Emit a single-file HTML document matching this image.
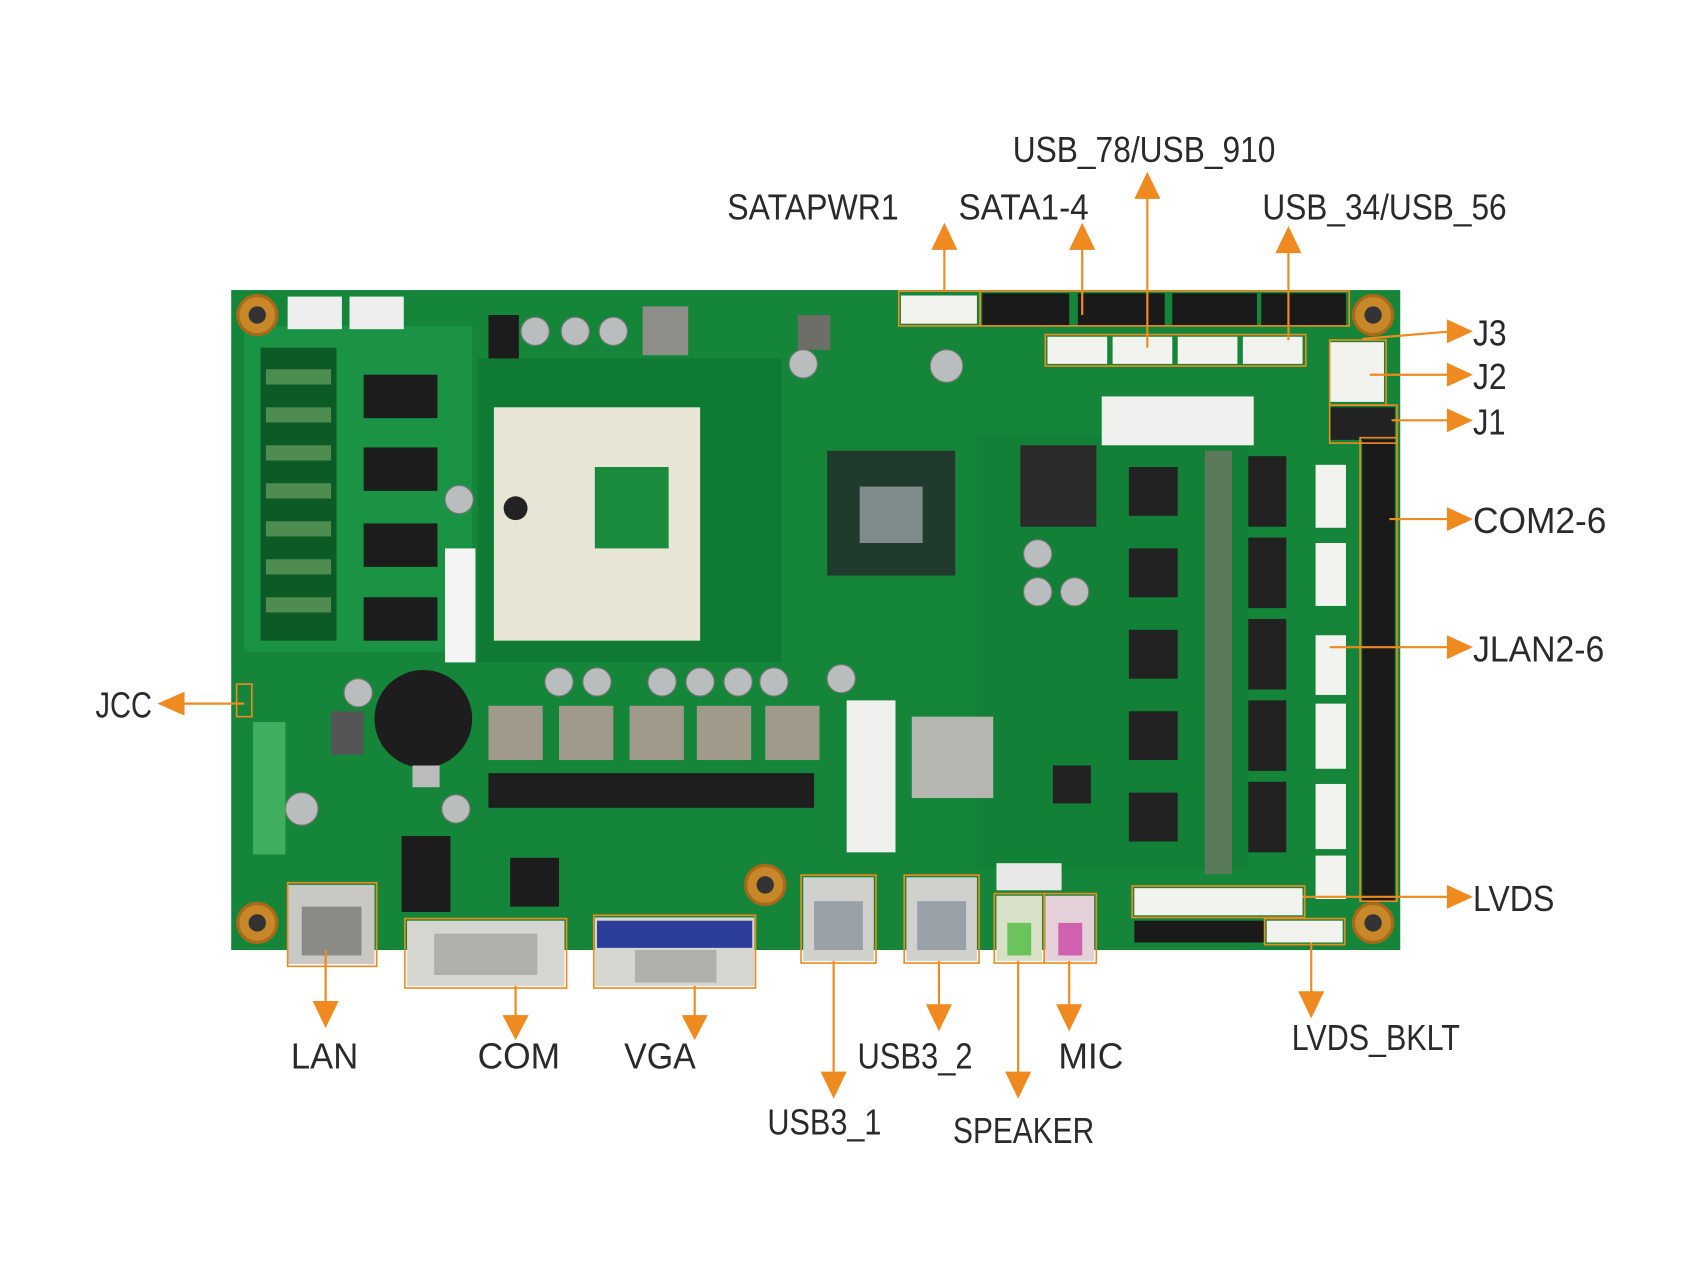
<!DOCTYPE html>
<html><head><meta charset="utf-8"><style>
html,body{margin:0;padding:0;background:#fff;}
svg{display:block;}
text{font-family:"Liberation Sans",sans-serif;font-size:33px;fill:#2a2a2a;}
</style></head><body>
<svg width="1702" height="1277" viewBox="0 0 1568 1176" xmlns="http://www.w3.org/2000/svg">
<rect x="0" y="0" width="1568" height="1176" fill="#fff"/>
<!-- board -->
<rect x="213" y="267" width="1077" height="608" fill="#15853a"/>
<rect x="225" y="300" width="210" height="300" fill="#1a9444"/>
<rect x="440" y="330" width="280" height="280" fill="#0f7a33"/>
<rect x="900" y="400" width="250" height="400" fill="#128036"/>
<!-- mounting holes -->
<g fill="#c8882a" stroke="#a86a18" stroke-width="3">
<circle cx="237" cy="290" r="18"/><circle cx="1265" cy="290" r="18"/>
<circle cx="237" cy="850" r="18"/><circle cx="1265" cy="850" r="18"/>
<circle cx="705" cy="815" r="18"/>
</g>
<g fill="#333"><circle cx="237" cy="290" r="8"/><circle cx="1265" cy="290" r="8"/><circle cx="237" cy="850" r="8"/><circle cx="1265" cy="850" r="8"/><circle cx="705" cy="815" r="8"/></g>
<!-- small white headers top-left -->
<rect x="265" y="273" width="50" height="30" fill="#eee"/><rect x="322" y="273" width="50" height="30" fill="#eee"/>
<!-- RAM-ish chips -->
<g fill="#1c1c1c">
<rect x="335" y="345" width="68" height="40"/><rect x="335" y="412" width="68" height="40"/>
<rect x="335" y="482" width="68" height="40"/><rect x="335" y="550" width="68" height="40"/>
<rect x="450" y="290" width="28" height="40"/>
</g>
<g fill="#0c5a25"><rect x="240" y="320" width="70" height="270"/></g>
<g fill="#8fbf7c" opacity="0.5">
<rect x="245" y="340" width="60" height="14"/><rect x="245" y="375" width="60" height="14"/><rect x="245" y="410" width="60" height="14"/><rect x="245" y="445" width="60" height="14"/><rect x="245" y="480" width="60" height="14"/><rect x="245" y="515" width="60" height="14"/><rect x="245" y="550" width="60" height="14"/>
</g>
<!-- CPU socket -->
<rect x="455" y="375" width="190" height="215" fill="#e8e4d6"/>
<rect x="548" y="430" width="68" height="75" fill="#1a8a3c"/>
<circle cx="475" cy="468" r="11" fill="#222"/>
<rect x="410" y="505" width="28" height="105" fill="#f4f4f4"/>
<!-- chipset -->
<rect x="762" y="415" width="118" height="115" fill="#213a2e"/>
<rect x="792" y="448" width="58" height="52" fill="#7d8b8b"/>
<rect x="940" y="410" width="70" height="75" fill="#2a2a2a"/>
<!-- caps -->
<g fill="#b9bdbd" stroke="#777" stroke-width="1">
<circle cx="493" cy="305" r="13"/><circle cx="530" cy="305" r="13"/><circle cx="565" cy="305" r="13"/>
<circle cx="740" cy="335" r="13"/><circle cx="872" cy="337" r="15"/><circle cx="423" cy="460" r="13"/>
<circle cx="956" cy="510" r="13"/><circle cx="956" cy="545" r="13"/><circle cx="990" cy="545" r="13"/>
<circle cx="515" cy="628" r="13"/><circle cx="550" cy="628" r="13"/><circle cx="610" cy="628" r="13"/><circle cx="645" cy="628" r="13"/><circle cx="680" cy="628" r="13"/><circle cx="713" cy="628" r="13"/><circle cx="775" cy="625" r="13"/>
<circle cx="330" cy="638" r="13"/><circle cx="278" cy="745" r="15"/><circle cx="420" cy="745" r="13"/>
</g>
<rect x="592" y="282" width="42" height="45" fill="#8e8e88"/><rect x="735" y="290" width="30" height="32" fill="#6e6e68"/>
<!-- inductors -->
<g fill="#a09a8a">
<rect x="450" y="650" width="50" height="50"/><rect x="515" y="650" width="50" height="50"/><rect x="580" y="650" width="50" height="50"/><rect x="642" y="650" width="50" height="50"/><rect x="705" y="650" width="50" height="50"/>
</g>
<g fill="#1e1e1e">
<rect x="450" y="712" width="300" height="32"/>
</g>
<!-- battery -->
<circle cx="390" cy="662" r="45" fill="#1d1d1d"/>
<rect x="380" y="705" width="25" height="20" fill="#bbb"/>
<!-- terminal block -->
<rect x="233" y="665" width="30" height="122" fill="#3fae5e"/>
<rect x="305" y="655" width="30" height="40" fill="#555"/>
<rect x="370" y="770" width="45" height="70" fill="#1c1c1c"/>
<rect x="470" y="790" width="45" height="45" fill="#1c1c1c"/>
<!-- mini pcie and sim -->
<rect x="780" y="645" width="45" height="140" fill="#f0f0ee"/>
<rect x="840" y="660" width="75" height="75" fill="#b6b6b0"/>
<rect x="1015" y="365" width="140" height="45" fill="#f0f0ee"/>
<!-- right chips -->
<g fill="#222">
<rect x="1040" y="430" width="45" height="45"/><rect x="1040" y="505" width="45" height="45"/><rect x="1040" y="580" width="45" height="45"/><rect x="1040" y="655" width="45" height="45"/><rect x="1040" y="730" width="45" height="45"/>
<rect x="1150" y="420" width="35" height="65"/><rect x="1150" y="495" width="35" height="65"/><rect x="1150" y="570" width="35" height="65"/><rect x="1150" y="645" width="35" height="65"/><rect x="1150" y="720" width="35" height="65"/>
<rect x="970" y="705" width="35" height="35"/>
</g>
<rect x="1110" y="415" width="25" height="390" fill="#5a7a5a"/>
<!-- right black header -->
<rect x="1255" y="405" width="30" height="425" fill="#1a1a1a"/>
<g fill="#f2f2ee">
<rect x="1212" y="428" width="28" height="58"/><rect x="1212" y="500" width="28" height="58"/><rect x="1212" y="585" width="28" height="55"/><rect x="1212" y="648" width="28" height="60"/><rect x="1212" y="722" width="28" height="60"/><rect x="1212" y="788" width="28" height="40"/>
<rect x="1225" y="315" width="50" height="55"/>
</g>
<rect x="1225" y="375" width="60" height="30" fill="#222"/>
<!-- top SATA -->
<g fill="#1a1a1a">
<rect x="905" y="270" width="80" height="30"/><rect x="993" y="270" width="80" height="30"/><rect x="1080" y="270" width="78" height="30"/><rect x="1162" y="270" width="78" height="30"/>
</g>
<rect x="830" y="272" width="70" height="26" fill="#f2f2ee"/>
<g fill="#f2f2ee">
<rect x="965" y="310" width="55" height="25"/><rect x="1025" y="310" width="55" height="25"/><rect x="1085" y="310" width="55" height="25"/><rect x="1145" y="310" width="55" height="25"/>
</g>
<!-- bottom -->
<rect x="1045" y="818" width="155" height="25" fill="#f2f2ee"/>
<rect x="1045" y="848" width="120" height="20" fill="#1a1a1a"/>
<rect x="1167" y="848" width="70" height="20" fill="#f2f2ee"/>
<rect x="918" y="795" width="60" height="25" fill="#e8e8e8"/>
<!-- IO -->
<rect x="265" y="815" width="80" height="73" fill="#c8c8c4"/><rect x="278" y="835" width="55" height="45" fill="#8a8a86"/>
<rect x="375" y="848" width="145" height="60" fill="#d6d6d0"/><rect x="400" y="860" width="95" height="38" fill="#b0b0aa"/>
<rect x="548" y="845" width="147" height="63" fill="#d6d6d0"/><rect x="550" y="848" width="143" height="25" fill="#2c3d9a"/><rect x="585" y="875" width="75" height="30" fill="#b0b0aa"/>
<rect x="740" y="808" width="65" height="77" fill="#d0d0cc"/><rect x="750" y="830" width="45" height="45" fill="#9aa0a8"/>
<rect x="835" y="808" width="65" height="77" fill="#d0d0cc"/><rect x="845" y="830" width="45" height="45" fill="#9aa0a8"/>
<rect x="918" y="825" width="42" height="60" fill="#d8e0c8"/><rect x="928" y="850" width="22" height="30" fill="#6ac45a"/>
<rect x="963" y="825" width="45" height="60" fill="#e4d0d8"/><rect x="975" y="850" width="22" height="30" fill="#d060b0"/>
<!-- orange outline boxes -->
<g fill="none" stroke="#ee8a20" stroke-width="1.5">
<rect x="828" y="268" width="75" height="32"/><rect x="903" y="268" width="340" height="32"/>
<rect x="963" y="308" width="240" height="29"/><rect x="1225" y="313" width="52" height="60"/>
<rect x="1225" y="373" width="62" height="35"/><rect x="1253" y="403" width="34" height="427"/>
<rect x="265" y="813" width="82" height="77"/><rect x="373" y="846" width="149" height="64"/><rect x="547" y="843" width="149" height="67"/>
<rect x="738" y="806" width="69" height="81"/><rect x="833" y="806" width="69" height="81"/>
<rect x="916" y="823" width="46" height="64"/><rect x="962" y="823" width="48" height="64"/>
<rect x="1165" y="846" width="74" height="24"/><rect x="1043" y="816" width="159" height="29"/>
<rect x="218" y="630" width="14" height="30"/>
</g>
<!-- arrows -->
<g stroke="#ee8a20" stroke-width="2" fill="none">
<line x1="870" y1="268" x2="870" y2="225"/><line x1="997" y1="290" x2="997" y2="225"/>
<line x1="1057" y1="320" x2="1057" y2="178"/><line x1="1187" y1="313" x2="1187" y2="228"/>
<line x1="1255" y1="312" x2="1338" y2="305"/><line x1="1262" y1="345" x2="1338" y2="345"/>
<line x1="1282" y1="387" x2="1338" y2="387"/><line x1="1280" y1="478" x2="1338" y2="478"/>
<line x1="1225" y1="596" x2="1338" y2="596"/><line x1="1200" y1="826" x2="1338" y2="826"/>
<line x1="225" y1="648" x2="165" y2="648"/>
<line x1="300" y1="875" x2="300" y2="927"/><line x1="475" y1="908" x2="475" y2="940"/>
<line x1="640" y1="908" x2="640" y2="940"/><line x1="768" y1="885" x2="768" y2="992"/>
<line x1="865" y1="885" x2="865" y2="930"/><line x1="938" y1="885" x2="938" y2="992"/>
<line x1="985" y1="885" x2="985" y2="930"/><line x1="1208" y1="868" x2="1208" y2="918"/>
</g>
<g fill="#ee8a20">
<polygon points="858,230 882,230 870,205"/><polygon points="985,230 1009,230 997,205"/>
<polygon points="1045,183 1069,183 1057,158"/><polygon points="1175,233 1199,233 1187,208"/>
<polygon points="1333,294 1333,316 1357,305"/><polygon points="1333,334 1333,356 1357,345"/>
<polygon points="1333,376 1333,398 1357,387"/><polygon points="1333,467 1333,489 1357,478"/>
<polygon points="1333,585 1333,607 1357,596"/><polygon points="1333,815 1333,837 1357,826"/>
<polygon points="170,637 170,659 145,648"/>
<polygon points="288,922 312,922 300,947"/><polygon points="463,935 487,935 475,958"/>
<polygon points="628,935 652,935 640,958"/><polygon points="756,987 780,987 768,1012"/>
<polygon points="853,925 877,925 865,950"/><polygon points="926,987 950,987 938,1012"/>
<polygon points="973,925 997,925 985,950"/><polygon points="1196,913 1220,913 1208,938"/>
</g>
<!-- labels -->
<text x="670" y="202" textLength="158" lengthAdjust="spacingAndGlyphs">SATAPWR1</text>
<text x="883" y="202" textLength="120" lengthAdjust="spacingAndGlyphs">SATA1-4</text>
<text x="933" y="149" textLength="242" lengthAdjust="spacingAndGlyphs">USB_78/USB_910</text>
<text x="1163" y="202" textLength="225" lengthAdjust="spacingAndGlyphs">USB_34/USB_56</text>
<text x="1357" y="318" textLength="31" lengthAdjust="spacingAndGlyphs">J3</text>
<text x="1357" y="358" textLength="31" lengthAdjust="spacingAndGlyphs">J2</text>
<text x="1357" y="400" textLength="30" lengthAdjust="spacingAndGlyphs">J1</text>
<text x="1357" y="491" textLength="123" lengthAdjust="spacingAndGlyphs">COM2-6</text>
<text x="1357" y="609" textLength="121" lengthAdjust="spacingAndGlyphs">JLAN2-6</text>
<text x="1357" y="839" textLength="75" lengthAdjust="spacingAndGlyphs">LVDS</text>
<text x="88" y="661" textLength="52" lengthAdjust="spacingAndGlyphs">JCC</text>
<text x="268" y="984" textLength="62" lengthAdjust="spacingAndGlyphs">LAN</text>
<text x="440" y="984" textLength="76" lengthAdjust="spacingAndGlyphs">COM</text>
<text x="575" y="984" textLength="66" lengthAdjust="spacingAndGlyphs">VGA</text>
<text x="707" y="1045" textLength="105" lengthAdjust="spacingAndGlyphs">USB3_1</text>
<text x="790" y="984" textLength="106" lengthAdjust="spacingAndGlyphs">USB3_2</text>
<text x="878" y="1053" textLength="130" lengthAdjust="spacingAndGlyphs">SPEAKER</text>
<text x="975" y="984" textLength="60" lengthAdjust="spacingAndGlyphs">MIC</text>
<text x="1190" y="967" textLength="155" lengthAdjust="spacingAndGlyphs">LVDS_BKLT</text>
</svg>
</body></html>
